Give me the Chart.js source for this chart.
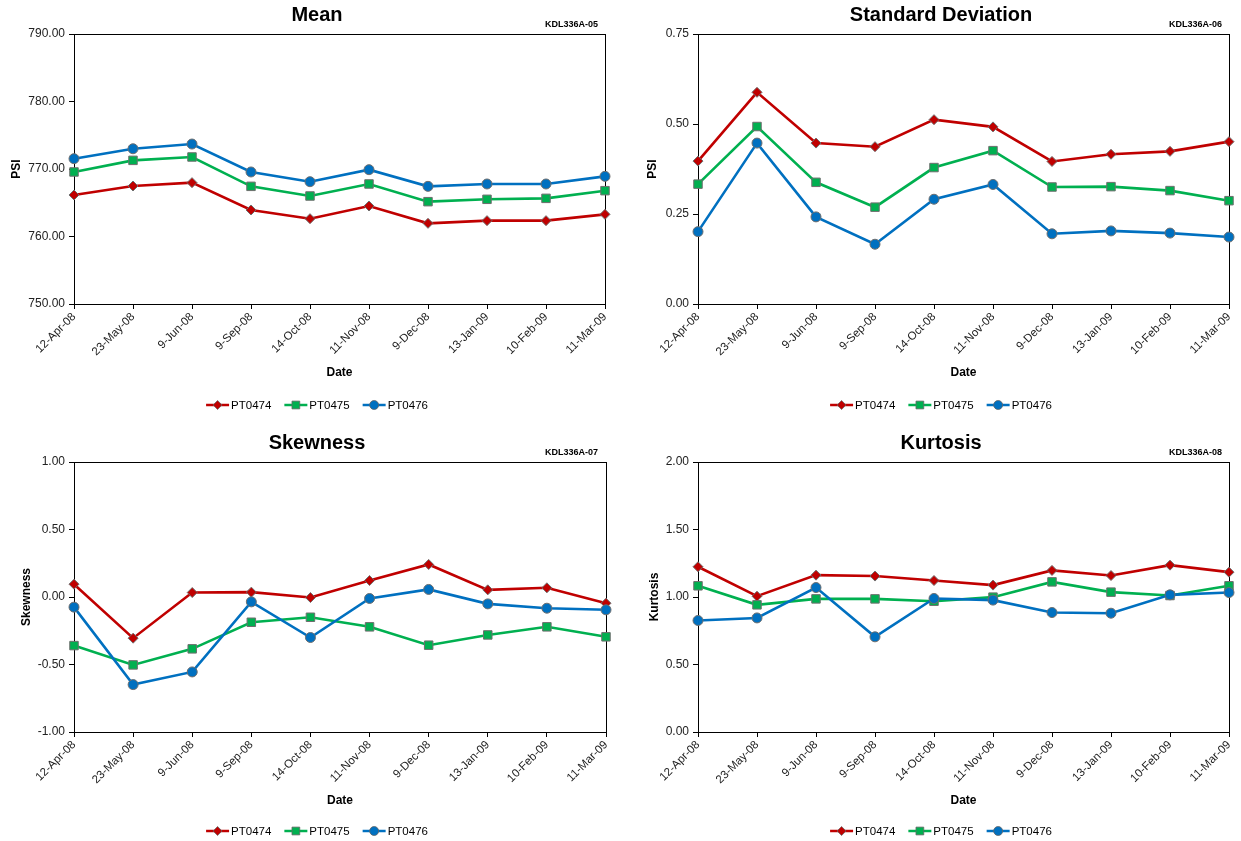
<!DOCTYPE html>
<html>
<head>
<meta charset="utf-8">
<title>PT0474 / PT0475 / PT0476 statistics</title>
<script src="https://cdn.jsdelivr.net/npm/chart.js@4/dist/chart.umd.min.js"></script>
<style>
    html, body { margin: 0; padding: 0; background: #fff; }
    #board { position: relative; width: 1241px; height: 841px; }
    #board canvas { position: absolute; }
</style>
</head>
<body>
<div id="board">
    <canvas id="mean-chart" width="620" height="420" style="left:0;top:0"></canvas>
    <canvas id="sd-chart" width="621" height="420" style="left:620px;top:0"></canvas>
    <canvas id="skew-chart" width="620" height="416" style="left:0;top:425px"></canvas>
    <canvas id="kurt-chart" width="621" height="416" style="left:620px;top:425px"></canvas>
</div>
<script>
// sampling dates
const dates = ['12-Apr-08', '23-May-08', '9-Jun-08', '9-Sep-08', '14-Oct-08',
    '11-Nov-08', '9-Dec-08', '13-Jan-09', '10-Feb-09', '11-Mar-09'];
const sensors = ['PT0474', 'PT0475', 'PT0476'];

// mean pressure (PSI)
const meanPT0474 = [766.15, 767.48, 767.98, 763.93, 762.64, 764.52, 761.95, 762.35, 762.35, 763.28];
const meanPT0475 = [769.56, 771.28, 771.78, 767.43, 766.00, 767.78, 765.16, 765.51, 765.65, 766.79];
const meanPT0476 = [771.53, 773.00, 773.70, 769.56, 768.12, 769.90, 767.43, 767.78, 767.78, 768.91];

// standard deviation (PSI)
const sdPT0474 = [0.397, 0.588, 0.447, 0.437, 0.512, 0.492, 0.396, 0.416, 0.424, 0.451];
const sdPT0475 = [0.333, 0.493, 0.338, 0.269, 0.379, 0.426, 0.325, 0.326, 0.315, 0.287];
const sdPT0476 = [0.201, 0.447, 0.242, 0.166, 0.291, 0.332, 0.195, 0.203, 0.197, 0.186];

// skewness
const skewPT0474 = [0.095, -0.305, 0.033, 0.036, -0.004, 0.122, 0.241, 0.053, 0.068, -0.046];
const skewPT0475 = [-0.360, -0.503, -0.384, -0.187, -0.150, -0.221, -0.357, -0.281, -0.221, -0.295];
const skewPT0476 = [-0.075, -0.649, -0.555, -0.036, -0.300, -0.011, 0.056, -0.051, -0.083, -0.095];

// kurtosis
const kurtPT0474 = [1.224, 1.006, 1.162, 1.155, 1.122, 1.088, 1.197, 1.159, 1.236, 1.184];
const kurtPT0475 = [1.083, 0.942, 0.986, 0.986, 0.969, 0.999, 1.112, 1.036, 1.011, 1.083];
const kurtPT0476 = [0.826, 0.845, 1.070, 0.705, 0.989, 0.977, 0.885, 0.880, 1.016, 1.033];

const FONT = 'Arial, "Liberation Sans", sans-serif';

// line / marker look for each sensor
const seriesStyle = [
    { color: '#C00000', pointStyle: 'rectRot', radius: 5, keyRadius: 4.5, order: 3 },
    { color: '#00B050', pointStyle: 'rect', radius: 6, keyRadius: 5.5, order: 2 },
    { color: '#0070C0', pointStyle: 'circle', radius: 5, keyRadius: 4.5, order: 1 }
];

// heading, chart code and frame round the plot area
const framePlugin = {
    id: 'frame',
    beforeDatasetsDraw(chart, args, opts) {
        const { ctx, chartArea: a } = chart;
        ctx.save();
        ctx.strokeStyle = '#000';
        ctx.lineWidth = 1;
        ctx.strokeRect(Math.round(a.left) + 0.5, Math.round(a.top) + 0.5,
            Math.round(a.right - a.left), Math.round(a.bottom - a.top));
        ctx.restore();
    },
    afterDraw(chart, args, opts) {
        const ctx = chart.ctx;
        ctx.save();
        ctx.fillStyle = '#000';
        ctx.textBaseline = 'middle';
        ctx.textAlign = 'center';
        ctx.font = 'bold 20px ' + FONT;
        ctx.fillText(opts.title, opts.centerX, opts.titleY);
        ctx.textAlign = 'right';
        ctx.font = 'bold 9px ' + FONT;
        ctx.fillText(opts.code, opts.codeX, opts.codeY);
        ctx.restore();
    }
};

// series key: short line with the marker on it, then the name
const keyPlugin = {
    id: 'seriesKey',
    afterDraw(chart, args, opts) {
        const ctx = chart.ctx;
        const lineLen = 23, textGap = 2, itemGap = 13;
        ctx.save();
        ctx.font = '11.5px ' + FONT;
        const sets = chart.data.datasets;
        const widths = sets.map(ds => lineLen + textGap + ctx.measureText(ds.label).width);
        const total = widths.reduce((s, w) => s + w, 0) + itemGap * (sets.length - 1);
        let x = opts.centerX - total / 2;
        const y = opts.y;
        sets.forEach((ds, i) => {
            const st = seriesStyle[i];
            ctx.strokeStyle = st.color;
            ctx.lineWidth = 2.5;
            ctx.beginPath();
            ctx.moveTo(x, y);
            ctx.lineTo(x + lineLen, y);
            ctx.stroke();
            ctx.fillStyle = st.color;
            ctx.strokeStyle = '#666';
            ctx.lineWidth = 0.8;
            Chart.helpers.drawPoint(ctx, { pointStyle: st.pointStyle, radius: st.keyRadius, borderWidth: 0.8, rotation: 0 },
                x + lineLen / 2, y);
            ctx.fillStyle = '#000';
            ctx.textAlign = 'left';
            ctx.textBaseline = 'middle';
            ctx.fillText(ds.label, x + lineLen + textGap, y + 0.5);
            x += widths[i] + itemGap;
        });
        ctx.restore();
    }
};

function buildDatasets(series) {
    return series.map((values, i) => {
        const st = seriesStyle[i];
        return {
            label: sensors[i],
            data: values,
            order: st.order,
            borderColor: st.color,
            backgroundColor: st.color,
            borderWidth: 2.6,
            tension: 0,
            pointStyle: st.pointStyle,
            pointRadius: st.radius,
            pointBackgroundColor: st.color,
            pointBorderColor: '#6e6e6e',
            pointBorderWidth: 1
        };
    });
}

function makeChart(id, cfg) {
    const canvas = document.getElementById(id);
    return new Chart(canvas, {
        type: 'line',
        data: { labels: dates, datasets: buildDatasets(cfg.series) },
        options: {
            responsive: false,
            animation: false,
            events: [],
            layout: {
                padding: { left: 0, top: cfg.top, right: canvas.width - cfg.right, bottom: cfg.padBottom }
            },
            plugins: {
                legend: { display: false },
                tooltip: { enabled: false },
                frame: { title: cfg.title, code: cfg.code, centerX: cfg.centerX, titleY: cfg.titleY, codeX: cfg.codeX, codeY: cfg.codeY },
                seriesKey: { centerX: cfg.centerX, y: cfg.keyY }
            },
            scales: {
                x: {
                    grid: { display: true, drawOnChartArea: false, drawTicks: true, tickLength: 5, color: '#000' },
                    border: { display: true, color: '#000', width: 1 },
                    ticks: {
                        color: '#222', font: { family: FONT, size: 11.5 },
                        minRotation: 45, maxRotation: 45, autoSkip: false, padding: 1
                    },
                    title: {
                        display: true, text: 'Date', color: '#000',
                        font: { family: FONT, size: 12, weight: 'bold' },
                        padding: { top: 4, bottom: 4 }
                    },
                    afterFit: s => { s.height = 80; }
                },
                y: {
                    min: cfg.min, max: cfg.max,
                    grid: { display: true, drawOnChartArea: false, drawTicks: true, tickLength: 5, color: '#000' },
                    border: { display: true, color: '#000', width: 1 },
                    ticks: {
                        stepSize: cfg.step, color: '#222', padding: 4,
                        font: { family: FONT, size: 12 },
                        callback: v => v.toFixed(2)
                    },
                    title: {
                        display: true, text: cfg.yTitle, color: '#000',
                        font: { family: FONT, size: 12, weight: 'bold' },
                        padding: { top: cfg.yTitlePad, bottom: 0 }
                    },
                    afterFit: s => { s.width = cfg.left; }
                }
            }
        },
        plugins: [framePlugin, keyPlugin]
    });
}

makeChart('mean-chart', {
    series: [meanPT0474, meanPT0475, meanPT0476],
    title: 'Mean', code: 'KDL336A-05', yTitle: 'PSI',
    min: 750, max: 790, step: 10,
    left: 74, right: 605, top: 34, padBottom: 36, yTitlePad: 9,
    centerX: 317, titleY: 15, codeX: 598, codeY: 25, keyY: 405
});

makeChart('sd-chart', {
    series: [sdPT0474, sdPT0475, sdPT0476],
    title: 'Standard Deviation', code: 'KDL336A-06', yTitle: 'PSI',
    min: 0, max: 0.75, step: 0.25,
    left: 78, right: 609, top: 34, padBottom: 36, yTitlePad: 25,
    centerX: 321, titleY: 15, codeX: 602, codeY: 25, keyY: 405
});

makeChart('skew-chart', {
    series: [skewPT0474, skewPT0475, skewPT0476],
    title: 'Skewness', code: 'KDL336A-07', yTitle: 'Skewness',
    min: -1, max: 1, step: 0.5,
    left: 74, right: 606, top: 37, padBottom: 29, yTitlePad: 19,
    centerX: 317, titleY: 18, codeX: 598, codeY: 28, keyY: 406
});

makeChart('kurt-chart', {
    series: [kurtPT0474, kurtPT0475, kurtPT0476],
    title: 'Kurtosis', code: 'KDL336A-08', yTitle: 'Kurtosis',
    min: 0, max: 2, step: 0.5,
    left: 78, right: 609, top: 37, padBottom: 29, yTitlePad: 27,
    centerX: 321, titleY: 18, codeX: 602, codeY: 28, keyY: 406
});
</script>
</body>
</html>
